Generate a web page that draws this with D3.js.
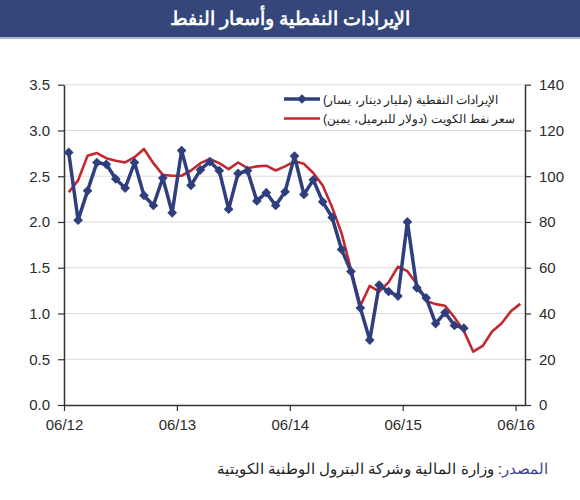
<!DOCTYPE html>
<html><head><meta charset="utf-8">
<script src="https://cdn.jsdelivr.net/npm/d3@7"></script>
<style>
body{margin:0;background:#fff}
svg{display:block;font-family:"Liberation Sans",Arial,sans-serif}
</style>
</head><body>
<svg id="c" width="580" height="500"></svg>
<script>
const title = "الإيرادات النفطية وأسعار النفط";
const seriesNames = ["الإيرادات النفطية (مليار دينار، يسار)", "سعر نفط الكويت (دولار للبرميل، يمين)"];
const sourceLabel = "المصدر";
const sourceText = ": وزارة المالية وشركة البترول الوطنية الكويتية";

// monthly, June 2012 onward
const revenue = [2.76, 2.02, 2.34, 2.65, 2.63, 2.47, 2.37, 2.65, 2.29, 2.18, 2.48, 2.10,
  2.78, 2.40, 2.57, 2.66, 2.56, 2.14, 2.53, 2.56, 2.23, 2.32, 2.18, 2.33,
  2.72, 2.30, 2.46, 2.22, 2.05, 1.70, 1.46, 1.06, 0.71, 1.31, 1.24, 1.19,
  2.00, 1.28, 1.17, 0.89, 1.01, 0.87, 0.84];
const oilPrice = [93.0, 98.2, 108.9, 110.1, 107.9, 106.8, 106.0, 108.3, 111.9, 105.7, 100.6, 100.2,
  100.2, 102.5, 105.7, 107.5, 105.7, 103.1, 106.0, 103.5, 104.3, 104.6, 102.5, 104.3,
  106.5, 105.4, 101.4, 95.9, 86.4, 75.1, 59.3, 43.4, 52.1, 49.6, 53.6, 60.5,
  58.5, 52.9, 45.5, 44.1, 43.4, 38.3, 32.4, 23.3, 25.8, 32.1, 35.6, 41.0, 44.2];
const xTickMonths = [0, 12, 24, 36, 48];
const xTickLabels = ["06/12", "06/13", "06/14", "06/15", "06/16"];
const leftTicks = [0, 0.5, 1.0, 1.5, 2.0, 2.5, 3.0, 3.5];
const rightTicks = [0, 20, 40, 60, 80, 100, 120, 140];

const blue = "#2f3f7d", red = "#c3282e";
const svg = d3.select("#c");

// title bar
svg.append("rect").attr("x",0).attr("y",0).attr("width",580).attr("height",37).attr("fill","#34467a");
svg.append("rect").attr("x",0).attr("y",37).attr("width",580).attr("height",2).attr("fill","#aeb8d3");
svg.append("text").attr("x",290).attr("y",25).attr("text-anchor","middle")
  .attr("fill","#fff").attr("font-size",19).attr("font-weight","bold").text(title);

const L = 64, R = 525, T = 84.7, B = 405;
const x = d3.scaleLinear().domain([0, 49]).range([L, R]);
const yL = d3.scaleLinear().domain([0, 3.5]).range([B, T]);
const yR = d3.scaleLinear().domain([0, 140]).range([B, T]);

// gridlines
svg.append("g").selectAll("line").data(leftTicks.filter(d => d > 0)).join("line")
  .attr("x1", L).attr("x2", R).attr("y1", d => yL(d)).attr("y2", d => yL(d))
  .attr("stroke", "#dcdcdc").attr("stroke-width", 1);

function styleAxis(g){
  g.selectAll(".domain").attr("stroke","#333").attr("stroke-width",1.5);
  g.selectAll(".tick line").attr("stroke","#333").attr("stroke-width",1.2);
  g.selectAll(".tick text").attr("fill","#2b2b2b").attr("font-size",15)
    .attr("font-family","Liberation Sans, Arial, sans-serif");
}
const gl = svg.append("g").attr("transform",`translate(${L},0)`)
  .call(d3.axisLeft(yL).tickValues(leftTicks).tickFormat(d3.format(".1f")).tickSize(6).tickSizeOuter(0).tickPadding(8));
styleAxis(gl);
const gr = svg.append("g").attr("transform",`translate(${R},0)`)
  .call(d3.axisRight(yR).tickValues(rightTicks).tickFormat(d3.format("d")).tickSize(6).tickSizeOuter(0).tickPadding(8));
styleAxis(gr);
const gb = svg.append("g").attr("transform",`translate(0,${B})`)
  .call(d3.axisBottom(x).tickValues(xTickMonths).tickFormat((d,i) => xTickLabels[i]).tickSize(6).tickSizeOuter(0).tickPadding(8));
styleAxis(gb);

// lines
const lineL = d3.line().x((d,i) => x(i + 0.5)).y(d => yL(d));
const lineR = d3.line().x((d,i) => x(i + 0.5)).y(d => yR(d));
svg.append("path").datum(oilPrice).attr("d", lineR).attr("fill","none")
  .attr("stroke", red).attr("stroke-width", 2.6).attr("stroke-linejoin","round");
svg.append("path").datum(revenue).attr("d", lineL).attr("fill","none")
  .attr("stroke", blue).attr("stroke-width", 3.5).attr("stroke-linejoin","round");
const diamond = d3.symbol().type(d3.symbolDiamond2).size(60);
svg.append("g").selectAll("path").data(revenue).join("path")
  .attr("d", diamond)
  .attr("transform", (d,i) => `translate(${x(i + 0.5)},${yL(d)})`)
  .attr("fill", blue);

// legend
const lg = svg.append("g");
[[99, blue, true], [118.5, red, false]].forEach(([yy, c, mk], k) => {
  lg.append("line").attr("x1",284).attr("x2",320).attr("y1",yy).attr("y2",yy)
    .attr("stroke",c).attr("stroke-width", mk ? 3.5 : 2.6);
  if (mk) lg.append("path").attr("d", diamond).attr("transform",`translate(302,${yy})`).attr("fill",c);
  lg.append("text").attr("x",323).attr("y",yy+4.5).attr("direction","rtl").attr("text-anchor","end")
    .attr("font-size",12.4).attr("fill","#222").text(seriesNames[k]);
});

// source
const st = svg.append("text").attr("x",548).attr("y",474).attr("direction","rtl")
  .attr("text-anchor","start").attr("font-size",15).attr("fill","#222");
st.append("tspan").attr("fill","#3a3f8f").text(sourceLabel);
st.append("tspan").text(sourceText);
</script>
</body></html>
